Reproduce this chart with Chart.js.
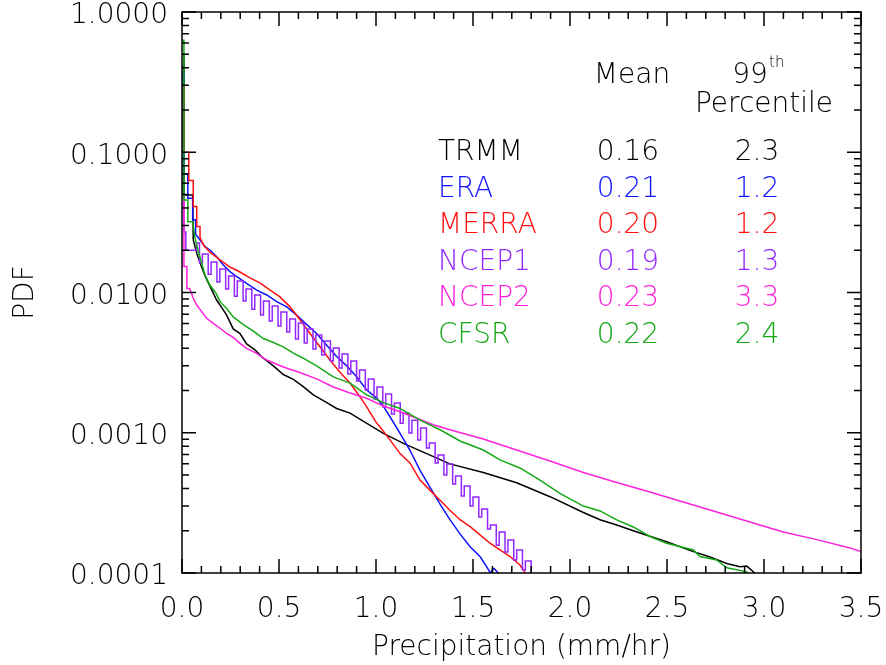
<!DOCTYPE html>
<html>
<head>
<meta charset="utf-8">
<script src="https://cdn.jsdelivr.net/npm/chart.js@4.4.1/dist/chart.umd.min.js"></script>
<style>
  html, body { margin: 0; padding: 0; background: #fff; }
  #wrap { width: 886px; height: 665px; position: relative; }
</style>
</head>
<body>
<div id="wrap"><canvas id="pdf-chart"></canvas></div>
<script>
// precipitation (mm/hr) and PDF values
const trmmX = [0, 0.01, 0.01, 0.055, 0.058, 0.076, 0.10, 0.12, 0.144, 0.179, 0.205, 0.23, 0.264, 0.299, 0.333, 0.376, 0.419, 0.471, 0.522, 0.574, 0.625, 0.677, 0.753, 0.797, 0.866, 1.038, 1.141, 1.261, 1.381, 1.553, 1.725, 1.897, 2.069, 2.155, 2.241, 2.326, 2.498, 2.636, 2.722, 2.808, 2.876, 2.911, 2.945, 2.98];
const trmmY = [0.5, 0.5, 0.0496, 0.0496, 0.0237, 0.019, 0.0153, 0.013, 0.0111, 0.0088, 0.0078, 0.0069, 0.0055, 0.0051, 0.0043, 0.0039, 0.0034, 0.0030, 0.0026, 0.0024, 0.00213, 0.00186, 0.00162, 0.00149, 0.00138, 0.00099, 0.00084, 0.00071, 0.0006, 0.00052, 0.00044, 0.00035, 0.00027, 0.00024, 0.00022, 0.0002, 0.000167, 0.000142, 0.00013, 0.000117, 0.000111, 0.000112, 0.000102, 0.00009];

const eraX = [0, 0.01, 0.01, 0.03, 0.03, 0.055, 0.055, 0.07, 0.07, 0.093, 0.119, 0.144, 0.179, 0.213, 0.247, 0.282, 0.333, 0.385, 0.437, 0.488, 0.54, 0.591, 0.643, 0.694, 0.746, 0.797, 0.849, 0.9, 0.952, 1.004, 1.04, 1.072, 1.124, 1.175, 1.227, 1.278, 1.33, 1.381, 1.433, 1.485, 1.536, 1.57, 1.59, 1.608, 1.63, 1.64];
const eraY = [0.37, 0.37, 0.07, 0.07, 0.047, 0.047, 0.033, 0.033, 0.026, 0.0237, 0.0212, 0.0201, 0.018, 0.0157, 0.0141, 0.013, 0.0116, 0.0104, 0.0096, 0.0086, 0.0079, 0.0069, 0.0059, 0.0051, 0.0042, 0.0035, 0.003, 0.00251, 0.00202, 0.00176, 0.00153, 0.0013, 0.00099, 0.00075, 0.00054, 0.00041, 0.00031, 0.00024, 0.00019, 0.000154, 0.000131, 0.000111, 0.0001, 0.000108, 0.0001, 0.00009];

const merraX = [0, 0.01, 0.01, 0.035, 0.035, 0.058, 0.058, 0.076, 0.076, 0.093, 0.093, 0.11, 0.144, 0.196, 0.247, 0.299, 0.35, 0.402, 0.454, 0.505, 0.557, 0.608, 0.66, 0.711, 0.763, 0.814, 0.866, 0.918, 0.952, 1.0, 1.021, 1.072, 1.124, 1.175, 1.227, 1.278, 1.33, 1.381, 1.433, 1.485, 1.536, 1.588, 1.639, 1.691, 1.742, 1.77, 1.78];
const merraY = [0.3, 0.3, 0.1, 0.1, 0.063, 0.063, 0.041, 0.041, 0.0295, 0.0295, 0.0248, 0.0218, 0.0194, 0.0171, 0.0152, 0.014, 0.0127, 0.0117, 0.0104, 0.0093, 0.0079, 0.0064, 0.0051, 0.0041, 0.0033, 0.0027, 0.00226, 0.0018, 0.00153, 0.00119, 0.0011, 0.00089, 0.00071, 0.00061, 0.00046, 0.00039, 0.00033, 0.00028, 0.00024, 0.000214, 0.000187, 0.000163, 0.000146, 0.000131, 0.000114, 0.0001, 0.00009];

// NCEP1 is a histogram with a strong sawtooth, drawn as steps (left bin edges)
const ncep1X = [0, 0.01, 0.02, 0.075, 0.09, 0.105, 0.135, 0.15, 0.18, 0.195, 0.225, 0.24, 0.27, 0.285, 0.315, 0.33, 0.36, 0.375, 0.405, 0.42, 0.45, 0.465, 0.495, 0.51, 0.54, 0.555, 0.585, 0.6, 0.63, 0.645, 0.675, 0.69, 0.72, 0.735, 0.765, 0.78, 0.81, 0.825, 0.855, 0.87, 0.9, 0.915, 0.945, 0.96, 0.99, 1.005, 1.035, 1.05, 1.08, 1.095, 1.125, 1.14, 1.17, 1.185, 1.215, 1.23, 1.26, 1.275, 1.305, 1.32, 1.35, 1.365, 1.395, 1.41, 1.44, 1.455, 1.485, 1.5, 1.53, 1.545, 1.575, 1.59, 1.62, 1.635, 1.665, 1.68, 1.71, 1.725, 1.755, 1.77, 1.8, 1.815, 1.83];
const ncep1Y = [0.42, 0.05, 0.027, 0.02, 0.0225, 0.0162, 0.0188, 0.0135, 0.0165, 0.0119, 0.0147, 0.0106, 0.0131, 0.0094, 0.0121, 0.0087, 0.0106, 0.0076, 0.0096, 0.0069, 0.00869, 0.00626, 0.00801, 0.00577, 0.00726, 0.00523, 0.00647, 0.00466, 0.00606, 0.00436, 0.00549, 0.00395, 0.00498, 0.00359, 0.00451, 0.00325, 0.00402, 0.00289, 0.00364, 0.00262, 0.00325, 0.00234, 0.0028, 0.00202, 0.00242, 0.00174, 0.00212, 0.00153, 0.00189, 0.00136, 0.00163, 0.00117, 0.00138, 0.000994, 0.00123, 0.000886, 0.00108, 0.000778, 0.000845, 0.000608, 0.000694, 0.0005, 0.000599, 0.000431, 0.000491, 0.000354, 0.000417, 0.0003, 0.000348, 0.000251, 0.000286, 0.000206, 0.00022, 0.000158, 0.000196, 0.000141, 0.000172, 0.000124, 0.000146, 0.000105, 0.000122, 0.00009, 0.00009];

const ncep2X = [0, 0.01, 0.01, 0.025, 0.025, 0.04, 0.058, 0.076, 0.1015, 0.127, 0.161, 0.196, 0.23, 0.264, 0.299, 0.333, 0.385, 0.437, 0.522, 0.608, 0.694, 0.78, 0.866, 0.952, 1.038, 1.124, 1.21, 1.295, 1.381, 1.553, 1.725, 1.897, 2.069, 2.241, 2.412, 2.584, 2.756, 2.928, 3.099, 3.272, 3.443, 3.5];
const ncep2Y = [0.0472, 0.0472, 0.0153, 0.0153, 0.0107, 0.0107, 0.0091, 0.00814, 0.0073, 0.00655, 0.00603, 0.00556, 0.00512, 0.00478, 0.00434, 0.004, 0.00368, 0.0033, 0.00294, 0.00269, 0.00242, 0.00212, 0.00192, 0.00176, 0.00155, 0.00141, 0.00127, 0.00114, 0.00105, 0.000902, 0.000753, 0.000629, 0.000521, 0.000442, 0.000378, 0.000321, 0.000272, 0.000231, 0.000196, 0.000173, 0.000151, 0.000142];

const cfsrX = [0, 0.01, 0.01, 0.03, 0.03, 0.055, 0.067, 0.084, 0.1015, 0.1186, 0.144, 0.175, 0.196, 0.23, 0.264, 0.316, 0.368, 0.419, 0.471, 0.522, 0.574, 0.625, 0.694, 0.78, 0.866, 0.952, 1.038, 1.124, 1.227, 1.33, 1.433, 1.553, 1.639, 1.742, 1.845, 1.948, 2.069, 2.155, 2.241, 2.326, 2.412, 2.498, 2.636, 2.67, 2.756, 2.808, 2.911, 2.93];
const cfsrY = [0.63, 0.63, 0.0457, 0.0457, 0.032, 0.032, 0.0245, 0.0195, 0.0162, 0.0133, 0.0113, 0.0099, 0.0086, 0.0077, 0.0067, 0.0059, 0.0053, 0.0047, 0.0044, 0.0041, 0.0037, 0.0034, 0.003, 0.0025, 0.00226, 0.00186, 0.00164, 0.00149, 0.00123, 0.00105, 0.000873, 0.000753, 0.00064, 0.000561, 0.00046, 0.00037, 0.0003, 0.000277, 0.000239, 0.000213, 0.000182, 0.000163, 0.000146, 0.000131, 0.000124, 0.000109, 0.000102, 0.00009];

// table in the upper right
const productNames = ["TRMM", "ERA", "MERRA", "NCEP1", "NCEP2", "CFSR"];
const productMeans = ["0.16", "0.21", "0.20", "0.19", "0.23", "0.22"];
const productP99 = ["2.3", "1.2", "1.2", "1.3", "3.3", "2.4"];
const productColors = ["#000000", "#1010ff", "#ff1010", "#9326ff", "#ff22dd", "#14a814"];

const xTickLabels = [0, 0.5, 1.0, 1.5, 2.0, 2.5, 3.0, 3.5];
const yTickLabels = [0.0001, 0.001, 0.01, 0.1, 1];

const FONT = "'DejaVu Sans', 'Liberation Sans', sans-serif";

function toPoints(xs, ys) {
  return xs.map((x, i) => ({ x: x, y: ys[i] }));
}

const seriesX = [trmmX, eraX, merraX, ncep1X, ncep2X, cfsrX];
const seriesY = [trmmY, eraY, merraY, ncep1Y, ncep2Y, cfsrY];

const datasets = productNames.map((name, i) => ({
  label: name,
  data: toPoints(seriesX[i], seriesY[i]),
  borderColor: productColors[i],
  borderWidth: 1.5,
  pointRadius: 0,
  tension: 0,
  stepped: name === "NCEP1" ? "after" : false,
  fill: false,
  order: 6 - i
}));

const frameTicks = {
  id: "frameTicks",
  afterDraw(chart) {
    const { ctx, chartArea: a } = chart;
    const xs = chart.scales.x;
    const ys = chart.scales.y;
    ctx.save();
    ctx.strokeStyle = "#000";
    ctx.lineWidth = 1.5;
    ctx.strokeRect(a.left, a.top, a.right - a.left, a.bottom - a.top);
    ctx.beginPath();
    for (let k = 0; k <= 35; k++) {
      const px = xs.getPixelForValue(k / 10);
      const len = k % 5 === 0 ? 14 : 7;
      ctx.moveTo(px, a.bottom); ctx.lineTo(px, a.bottom - len);
      ctx.moveTo(px, a.top); ctx.lineTo(px, a.top + len);
    }
    yTickLabels.forEach((d, j) => {
      for (let m = 1; m <= 9; m++) {
        if (m > 1 && j === yTickLabels.length - 1) break;
        const py = ys.getPixelForValue(d * m);
        const len = m === 1 ? 14 : 7;
        ctx.moveTo(a.left, py); ctx.lineTo(a.left + len, py);
        ctx.moveTo(a.right, py); ctx.lineTo(a.right - len, py);
      }
    });
    ctx.stroke();
    ctx.restore();
  }
};

const statsTable = {
  id: "statsTable",
  afterDraw(chart) {
    const ctx = chart.ctx;
    ctx.save();
    ctx.font = "200 28px " + FONT;
    ctx.textBaseline = "alphabetic";
    ctx.fillStyle = "#000";
    ctx.textAlign = "center";
    ctx.fillText("Mean", 632, 83);
    ctx.fillText("99", 750, 83);
    ctx.fillText("Percentile", 764, 112);
    ctx.font = "200 15px " + FONT;
    ctx.textAlign = "left";
    ctx.fillText("th", 769, 67);

    ctx.font = "200 28px " + FONT;
    productNames.forEach((name, i) => {
      const base = 160 + i * 36.6;
      ctx.fillStyle = productColors[i];
      ctx.textAlign = "left";
      ctx.fillText(name, 438, base);
      ctx.textAlign = "center";
      ctx.fillText(productMeans[i], 628, base);
      ctx.fillText(productP99[i], 757, base);
    });
    ctx.restore();
  }
};

new Chart(document.getElementById("pdf-chart"), {
  type: "line",
  data: { datasets: datasets },
  plugins: [frameTicks, statsTable],
  options: {
    responsive: true,
    maintainAspectRatio: false,
    animation: false,
    layout: { padding: { top: 12, right: 25, left: 0, bottom: 0 } },
    plugins: {
      legend: { display: false },
      tooltip: { enabled: false }
    },
    scales: {
      x: {
        type: "linear",
        min: 0,
        max: 3.5,
        grid: { display: false, drawTicks: false },
        border: { display: false },
        afterBuildTicks: axis => {
          axis.ticks = xTickLabels.map(v => ({ value: v }));
        },
        afterFit: scale => {
          scale.height = 92;
          scale.paddingLeft = 0;
          scale.paddingRight = 0;
        },
        ticks: {
          padding: 20,
          color: "#000",
          maxRotation: 0,
          font: { family: FONT, size: 28, weight: "200" },
          callback: value => Number(value).toFixed(1)
        },
        title: {
          display: true,
          text: "Precipitation (mm/hr)",
          color: "#000",
          padding: { top: 0, bottom: 0 },
          font: { family: FONT, size: 28, weight: "200" }
        }
      },
      y: {
        type: "logarithmic",
        min: 0.0001,
        max: 1,
        grid: { display: false, drawTicks: false },
        border: { display: false },
        afterBuildTicks: axis => {
          axis.ticks = yTickLabels.map(v => ({ value: v }));
        },
        afterFit: scale => {
          scale.width = 182;
          scale.paddingTop = 0;
          scale.paddingBottom = 0;
        },
        ticks: {
          padding: 14,
          labelOffset: 4,
          color: "#000",
          font: { family: FONT, size: 28, weight: "200" },
          callback: value => Number(value).toFixed(4)
        },
        title: {
          display: true,
          text: "PDF",
          color: "#000",
          padding: { top: 9, bottom: 0 },
          font: { family: FONT, size: 28, weight: "200" }
        }
      }
    }
  }
});
</script>
</body>
</html>
